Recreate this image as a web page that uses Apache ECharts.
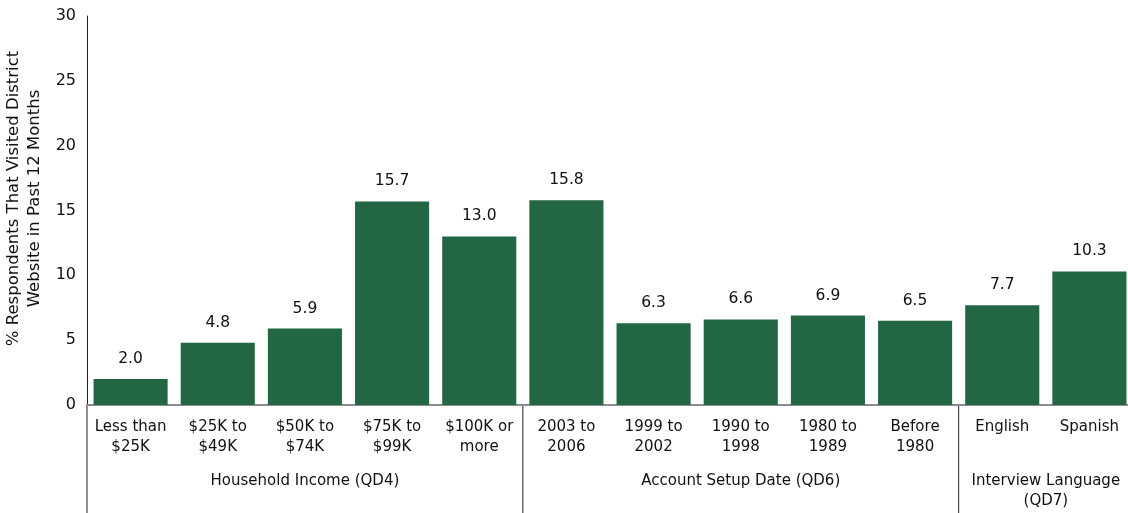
<!DOCTYPE html>
<html>
<head>
<meta charset="utf-8">
<script src="https://cdn.jsdelivr.net/npm/echarts@6/dist/echarts.min.js"></script>
<style>
  html, body { margin: 0; padding: 0; background: #fff; }
  #chart { width: 1128px; height: 513px; }
</style>
</head>
<body>
<div id="chart"></div>
<script>
  // categories and values
  var categories = [
    "Less than\n$25K", "$25K to\n$49K", "$50K to\n$74K", "$75K to\n$99K", "$100K or\nmore",
    "2003 to\n2006", "1999 to\n2002", "1990 to\n1998", "1980 to\n1989", "Before\n1980",
    "English", "Spanish"
  ];
  var values = [2.0, 4.8, 5.9, 15.7, 13.0, 15.8, 6.3, 6.6, 6.9, 6.5, 7.7, 10.3];

  // group label, first and last category index
  var groupNames = ["Household Income (QD4)", "Account Setup Date (QD6)", "Interview Language\n(QD7)"];
  var groupStart = [0, 5, 10];
  var groupEnd = [4, 9, 11];

  var yTicks = [0, 5, 10, 15, 20, 25, 30];

  var FONT = "DejaVu Sans";
  var chart = echarts.init(document.getElementById("chart"));

  chart.setOption({
    animation: false,
    grid: { left: 87, right: -5, top: 16, bottom: 108, containLabel: false, outerBoundsMode: "none" },
    xAxis: {
      type: "category",
      data: categories,
      axisLine: { lineStyle: { color: "#8c8c8c", width: 2 } },
      axisTick: { show: false },
      axisLabel: { color: "#111", fontFamily: FONT, fontSize: 15, lineHeight: 20, margin: 12, interval: 0 }
    },
    yAxis: {
      type: "value",
      min: yTicks[0],
      max: yTicks[yTicks.length - 1],
      interval: 5,
      name: "% Respondents That Visited District\nWebsite in Past 12 Months",
      nameLocation: "middle",
      nameGap: 35,
      nameTextStyle: { color: "#111", fontFamily: FONT, fontSize: 16.5, lineHeight: 21, padding: [0, 0, 0, 24] },
      axisLine: { show: true, lineStyle: { color: "#222", width: 1 } },
      axisTick: { show: false },
      splitLine: { show: false },
      axisLabel: { color: "#111", fontFamily: FONT, fontSize: 16, margin: 11 }
    },
    series: [{
      type: "bar",
      data: values,
      barCategoryGap: "15%",
      itemStyle: { color: "#226644" },
      label: {
        show: true,
        position: "top",
        distance: 12,
        color: "#111",
        fontFamily: FONT,
        fontSize: 15.5,
        formatter: function (p) { return p.value.toFixed(1); }
      }
    }]
  });

  // group separators and labels placed from the category scale
  function centerX(i) { return chart.convertToPixel({ xAxisIndex: 0 }, i); }
  var step = centerX(1) - centerX(0);
  var y0 = chart.convertToPixel({ yAxisIndex: 0 }, 0);
  var elements = [];
  // y axis line continues down past the categories
  elements.push({
    type: "line", silent: true,
    shape: { x1: centerX(0) - step / 2, y1: y0, x2: centerX(0) - step / 2, y2: 513 },
    style: { stroke: "#222", lineWidth: 1 }
  });
  for (var g = 0; g < groupNames.length; g++) {
    var left = centerX(groupStart[g]) - step / 2;
    var right = centerX(groupEnd[g]) + step / 2;
    if (g > 0) {
      elements.push({
        type: "line", silent: true,
        shape: { x1: left, y1: y0, x2: left, y2: 513 },
        style: { stroke: "#222", lineWidth: 1 }
      });
    }
    elements.push({
      type: "text", silent: true,
      x: (left + right) / 2, y: y0 + 66,
      style: {
        text: groupNames[g], fill: "#111", font: "15px '" + FONT + "'",
        align: "center", verticalAlign: "top", lineHeight: 20
      }
    });
  }
  chart.setOption({ graphic: elements });
</script>
</body>
</html>
